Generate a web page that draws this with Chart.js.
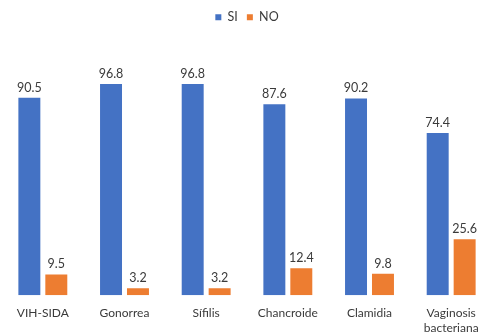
<!DOCTYPE html>
<html>
<head>
<meta charset="utf-8">
<script src="https://cdn.jsdelivr.net/npm/chart.js@4.4.0/dist/chart.umd.min.js"></script>
<style>
  html, body { margin: 0; padding: 0; background: #fff; overflow: hidden; }
  #wrap { position: relative; width: 494px; height: 338px; }
</style>
</head>
<body>
<div id="wrap"><canvas id="myChart"></canvas></div>
<script>
// categories and the two answer series (percent)
const categories = ["VIH-SIDA", "Gonorrea", "Sífilis", "Chancroide", "Clamidia", ["Vaginosis", "bacteriana"]];
const siValues = [90.5, 96.8, 96.8, 87.6, 90.2, 74.4];
const noValues = [9.5, 3.2, 3.2, 12.4, 9.8, 25.6];

const textColor = "#3a3a3a";

// draws the value above every bar
const valueLabels = {
  id: "valueLabels",
  afterDatasetsDraw(chart) {
    const ctx = chart.ctx;
    ctx.save();
    ctx.font = "12.5px Lato";
    ctx.fillStyle = textColor;
    ctx.textAlign = "center";
    ctx.textBaseline = "bottom";
    chart.data.datasets.forEach((ds, i) => {
      const meta = chart.getDatasetMeta(i);
      meta.data.forEach((bar, j) => {
        ctx.fillText(ds.data[j].toFixed(1), bar.x, bar.y - 4);
      });
    });
    ctx.restore();
  }
};

const myChart = new Chart("myChart", {
  type: "bar",
  data: {
    labels: categories,
    datasets: [
      { label: "SI", data: siValues, backgroundColor: "#4472C4" },
      { label: "NO", data: noValues, backgroundColor: "#ED7D31" }
    ]
  },
  options: {
    responsive: true,
    maintainAspectRatio: false,
    animation: false,
    layout: { padding: { left: 2, right: 2, top: 2, bottom: 0 } },
    categoryPercentage: 0.66,
    barPercentage: 0.815,
    plugins: {
      legend: {
        position: "top",
        labels: {
          boxWidth: 6,
          boxHeight: 6,
          padding: 9,
          color: textColor,
          font: { family: "Lato", size: 12.5 }
        }
      },
      tooltip: { enabled: false }
    },
    scales: {
      x: {
        grid: { display: false },
        border: { display: false },
        ticks: { color: textColor, font: { family: "Lato", size: 12 }, maxRotation: 0, autoSkip: false }
      },
      y: {
        display: false,
        min: 0,
        max: 120
      }
    }
  },
  plugins: [valueLabels]
});
</script>
</body>
</html>
